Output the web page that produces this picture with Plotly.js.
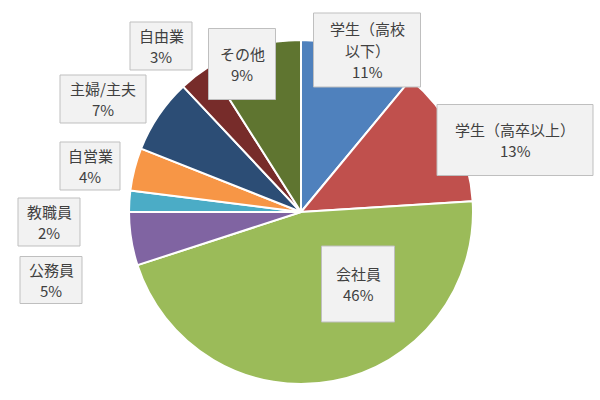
<!DOCTYPE html>
<html>
<head>
<meta charset="utf-8">
<script src="https://cdn.plot.ly/plotly-3.0.1.min.js"></script>
<style>
html, body { margin:0; padding:0; background:#fff; }
#chart { width:600px; height:400px; }
</style>
</head>
<body>
<div id="chart"></div>
<script>
// 職業の内訳 (%)
var categories = ['学生（高校以下）','学生（高卒以上）','会社員','公務員','教職員','自営業','主婦/主夫','自由業','その他'];
var boxNames = [['学生（高校','以下）'],['学生（高卒以上）'],['会社員'],['公務員'],['教職員'],['自営業'],['主婦/主夫'],['自由業'],['その他']];
var shares = [11, 13, 46, 5, 2, 4, 7, 3, 9];
var sliceColors = ['#4F81BD','#C0504D','#9BBB59','#8064A2','#4BACC6','#F79646','#2C4D75','#772C2A','#5F7530'];

// label box centre and size, in pixels of the 600x400 picture
var boxX = [367, 515, 358, 51, 49, 90, 103, 161, 242];
var boxY = [50, 140, 284, 280, 222, 166, 99, 46, 64];
var boxW = [107, 156, 73, 62, 62, 60, 86, 62, 67];
var boxH = [74, 71, 76, 47, 48, 48, 48, 48, 71];
var lineGap = 21.5;

var total = shares.reduce(function(a, b){ return a + b; }, 0);

var trace = {
  type: 'pie',
  labels: categories,
  values: shares,
  sort: false,
  direction: 'clockwise',
  rotation: 0,
  textinfo: 'none',
  hoverinfo: 'label+percent',
  marker: { colors: sliceColors, line: { color: '#ffffff', width: 2 } },
  domain: { x: [129/600, 473/600], y: [1 - 384/400, 1 - 40/400] },
  showlegend: false
};

var shapes = [];
var annotations = [];
for (let i = 0; i < categories.length; i++) {
  shapes.push({
    type: 'rect', xref: 'paper', yref: 'paper',
    x0: (boxX[i] - boxW[i]/2) / 600, x1: (boxX[i] + boxW[i]/2) / 600,
    y0: 1 - (boxY[i] + boxH[i]/2) / 400, y1: 1 - (boxY[i] - boxH[i]/2) / 400,
    fillcolor: '#F2F2F2',
    line: { color: '#BFBFBF', width: 1 }
  });
  let pct = Math.round(shares[i] / total * 100);
  let lines = boxNames[i].concat([pct + '%']);
  for (let k = 0; k < lines.length; k++) {
    let yy = boxY[i] + (k - (lines.length - 1) / 2) * lineGap;
    annotations.push({
      xref: 'paper', yref: 'paper',
      x: boxX[i] / 600, y: 1 - yy / 400,
      xanchor: 'center', yanchor: 'middle',
      text: lines[k],
      showarrow: false,
      borderpad: 0,
      font: { family: '"Noto Sans CJK JP", "Noto Sans", sans-serif', size: 15, color: '#404040' }
    });
  }
}

var layout = {
  width: 600,
  height: 400,
  margin: { l: 0, r: 0, t: 0, b: 0 },
  paper_bgcolor: '#ffffff',
  shapes: shapes,
  annotations: annotations
};

Plotly.newPlot('chart', [trace], layout, { displayModeBar: false, staticPlot: true });
</script>
</body>
</html>
